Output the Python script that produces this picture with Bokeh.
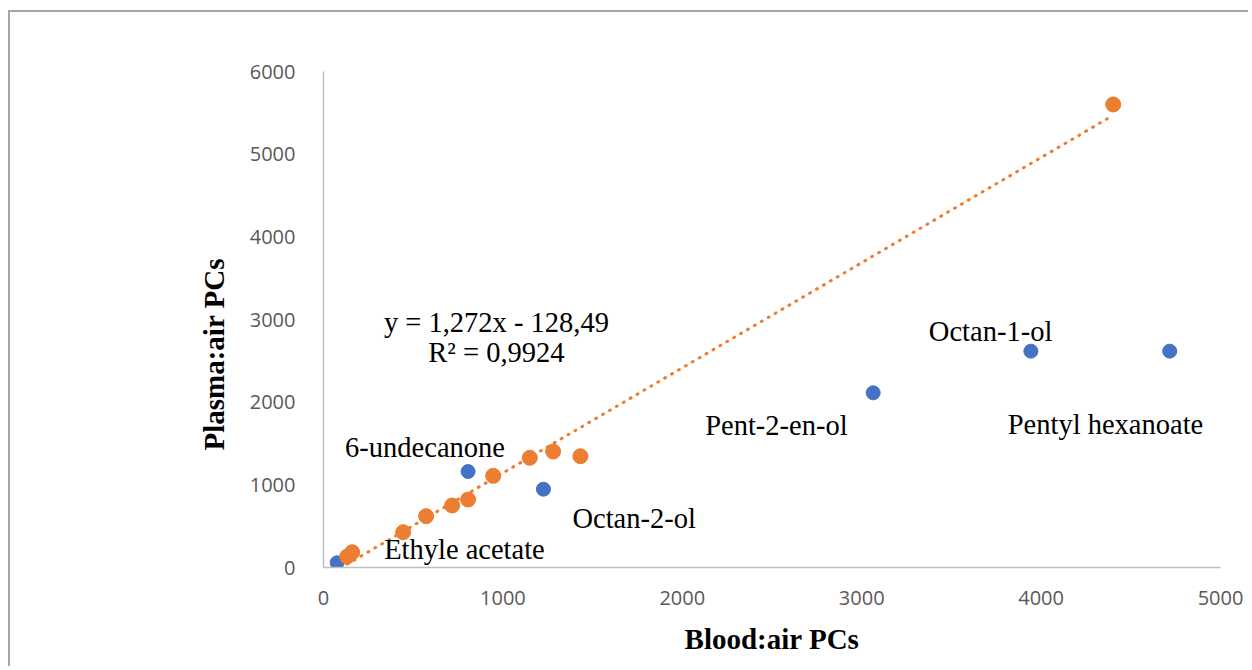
from bokeh.plotting import figure
from bokeh.models import Range1d, FixedTicker, Label, Title
from bokeh.embed import file_html
from bokeh.resources import INLINE

# ---- data ----
blood_blue = [76, 806, 1226, 3064, 3943, 4717]
plasma_blue = [57, 1161, 947, 2113, 2617, 2617]
names_blue = ["Ethyle acetate", "6-undecanone", "Octan-2-ol",
              "Pent-2-en-ol", "Octan-1-ol", "Pentyl hexanoate"]

blood_orange = [132, 160, 444, 572, 717, 806, 946, 1150, 1280, 1432, 4402]
plasma_orange = [133, 185, 427, 621, 750, 822, 1109, 1327, 1403, 1346, 5601]

trend_slope = 1.272
trend_intercept = -128.49
equation_text = "y = 1,272x - 128,49"
r2_text = "R\u00b2 = 0,9924"

x_ticks = [0, 1000, 2000, 3000, 4000, 5000]
y_ticks = [0, 1000, 2000, 3000, 4000, 5000, 6000]
x_title = "Blood:air PCs"
y_title = "Plasma:air PCs"

# ---- layout / style ----
BLUE = "#4472C4"
ORANGE = "#ED7D31"
SERIF = "Liberation Serif"
label_dx = [47, -123, 29, -168, -102, -162]
label_dy = [13, 24, -29, -33, 20, -73]

p = figure(width=1240, height=656, output_backend="svg", toolbar_location=None,
           x_range=Range1d(x_ticks[0], x_ticks[-1]), y_range=Range1d(y_ticks[0], y_ticks[-1]),
           min_border_left=313, min_border_right=30, min_border_top=59, min_border_bottom=101)
p.styles = {"border-left": "2px solid #a6a6a6", "border-top": "2px solid #a6a6a6",
            "margin-left": "8px", "margin-top": "10px"}
p.outline_line_color = None
p.xgrid.visible = False
p.ygrid.visible = False
p.background_fill_color = "white"
p.border_fill_color = "white"

for ax, ticks in ((p.xaxis[0], x_ticks), (p.yaxis[0], y_ticks)):
    ax.ticker = FixedTicker(ticks=ticks)
    ax.major_tick_line_color = None
    ax.minor_tick_line_color = None
    ax.axis_line_color = "#bfbfbf"
    ax.axis_line_width = 1.5
    ax.major_label_text_font = "Open Sans"
    ax.major_label_text_font_size = "20px"
    ax.major_label_text_color = "#595959"

p.yaxis.major_label_standoff = 22
p.xaxis.major_label_standoff = 17

p.xaxis.axis_label = x_title
p.xaxis.axis_label_text_font = SERIF
p.xaxis.axis_label_text_font_style = "bold"
p.xaxis.axis_label_text_font_size = "29px"
p.xaxis.axis_label_text_color = "black"
p.xaxis.axis_label_standoff = 15

p.add_layout(Title(text=y_title, align="left", offset=117, standoff=33,
                   text_font=SERIF, text_font_style="bold", text_font_size="29px",
                   text_color="black"), "left")

# trendline of the orange series
tx = [min(blood_orange), max(blood_orange)]
ty = [trend_slope * v + trend_intercept for v in tx]
p.line(tx, ty, line_color=ORANGE, line_width=3, line_dash="1 7", line_cap="round")

p.scatter(blood_blue, plasma_blue, marker="circle", size=14,
          fill_color=BLUE, line_color=BLUE)
p.scatter(blood_orange, plasma_orange, marker="circle", size=15,
          fill_color=ORANGE, line_color=ORANGE)

for xv, yv, name, dx, dy in zip(blood_blue, plasma_blue, names_blue, label_dx, label_dy):
    p.add_layout(Label(x=xv, y=yv, x_offset=dx, y_offset=dy, text=name,
                       text_align="left", text_baseline="alphabetic",
                       text_font=SERIF, text_font_size="28.5px", text_color="black"))

p.add_layout(Label(x=964, y=2962, text=equation_text, text_align="center",
                   text_baseline="alphabetic", text_font=SERIF,
                   text_font_size="28.5px", text_color="black"))
p.add_layout(Label(x=964, y=2605, text=r2_text, text_align="center",
                   text_baseline="alphabetic", text_font=SERIF,
                   text_font_size="28.5px", text_color="black"))

open("out.html", "w").write(file_html(p, INLINE))
